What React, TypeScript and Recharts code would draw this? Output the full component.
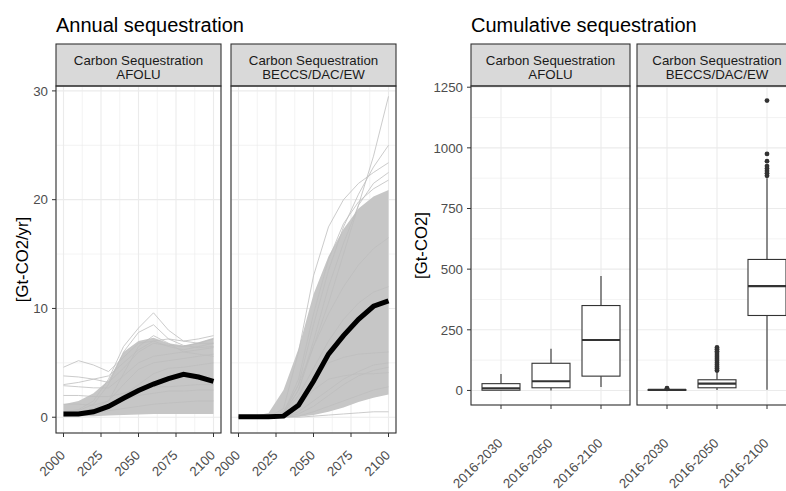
import React from "react";
import { ComposedChart, Line, Area, Bar, XAxis, YAxis, CartesianGrid } from "recharts";

const FONT = '"Liberation Sans", Arial, Helvetica, sans-serif';

// ---- Annual sequestration (Gt-CO2/yr) ----
const YEARS = [2000, 2010, 2020, 2030, 2040, 2050, 2060, 2070, 2080, 2090, 2100];
const YEAR_TICKS = [2000, 2025, 2050, 2075, 2100];
const YEAR_MINOR = [2012.5, 2037.5, 2062.5, 2087.5];
const ANNUAL_TICKS = [0, 10, 20, 30];
const ANNUAL_MINOR = [5, 15, 25];

// AFOLU: median pathway, bulk envelope of scenarios, individual scenarios
const afoluMedian = [0.3, 0.3, 0.5, 1.0, 1.75, 2.45, 3.05, 3.55, 3.95, 3.7, 3.3];
const afoluLow = [0.1, 0.1, 0.1, 0.15, 0.2, 0.25, 0.3, 0.3, 0.3, 0.3, 0.3];
const afoluHigh = [1.2, 1.5, 2.2, 3.4, 6.0, 7.0, 7.3, 6.8, 6.6, 6.9, 7.3];
const afoluRuns = [
  [4.6, 5.2, 4.8, 4.2, 5.5, 6.8, 7.0, 6.5, 6.2, 6.5, 6.8],
  [3.8, 3.7, 3.5, 3.2, 4.5, 6.0, 6.8, 6.6, 6.5, 6.8, 7.2],
  [2.9, 2.8, 2.7, 2.7, 3.8, 5.0, 5.6, 5.8, 6.0, 6.2, 6.4],
  [2.0, 2.0, 1.9, 1.9, 2.2, 2.6, 2.8, 2.8, 2.9, 3.0, 3.0],
  [0.5, 0.7, 1.5, 3.5, 6.5, 8.2, 9.6, 8.0, 7.0, 6.8, 6.8],
  [0.3, 0.6, 1.2, 3.0, 6.0, 7.8, 8.5, 7.2, 6.6, 6.4, 6.5],
  [1.2, 1.2, 1.1, 1.5, 4.0, 6.5, 7.5, 6.8, 6.0, 5.8, 5.6],
  [0.2, 0.2, 0.4, 1.0, 2.0, 3.0, 4.0, 4.5, 4.6, 4.8, 5.0],
  [0.2, 0.3, 0.6, 1.2, 1.6, 2.0, 2.2, 2.4, 2.4, 2.5, 2.5],
  [0.4, 0.5, 0.8, 1.5, 3.0, 4.4, 5.0, 5.2, 5.4, 5.6, 5.8],
  [0.1, 0.2, 0.4, 0.6, 0.8, 1.0, 1.2, 1.3, 1.4, 1.5, 1.5],
  [3.0, 3.2, 3.5, 3.8, 5.0, 6.2, 7.0, 7.2, 7.0, 7.2, 7.5],
];

// BECCS/DAC/EW
const beccsMedian = [0.05, 0.05, 0.05, 0.1, 1.1, 3.3, 5.8, 7.5, 9.0, 10.2, 10.7];
const beccsLow = [0, 0, 0, 0, 0.05, 0.2, 0.5, 0.9, 1.4, 1.8, 2.1];
const beccsHigh = [0.05, 0.1, 0.4, 2.5, 6.3, 11.3, 14.8, 17.3, 19.2, 20.3, 20.9];
const beccsRuns = [
  [0, 0, 0, 0.3, 2.5, 6.5, 10.5, 15.0, 19.5, 24.0, 29.5],
  [0, 0, 0, 0.8, 6.0, 13.0, 17.5, 20.0, 21.5, 22.5, 23.4],
  [0, 0, 0, 0.3, 3.0, 8.5, 13.5, 17.5, 20.5, 23.0, 25.0],
  [0, 0, 0, 0.3, 2.5, 7.0, 12.0, 16.0, 19.5, 21.5, 22.5],
  [0, 0, 0, 0.4, 3.5, 9.5, 14.5, 17.8, 19.8, 21.0, 21.8],
  [0, 0, 0, 0.5, 3.0, 6.5, 9.5, 12.0, 14.0, 15.5, 16.5],
  [0, 0, 0, 0.3, 2.0, 4.5, 7.0, 9.0, 10.5, 11.5, 12.0],
  [0, 0, 0, 0, 0.3, 1.0, 2.0, 3.0, 3.8, 4.3, 4.6],
  [0, 0, 0, 0, 0.5, 1.5, 2.5, 3.5, 4.2, 4.8, 5.0],
  [0, 0, 0, 0, 0.1, 0.5, 1.0, 1.5, 2.0, 2.5, 2.8],
  [0, 0, 0, 0.2, 1.5, 3.5, 5.0, 5.5, 5.8, 5.9, 6.0],
  [0, 0, 0, 0.1, 1.0, 2.5, 3.5, 3.8, 4.0, 4.0, 4.1],
  [0, 0, 0, 0, 0, 0.1, 0.2, 0.3, 0.4, 0.5, 0.5],
];

// ---- Cumulative sequestration (Gt-CO2) ----
const PERIODS = ["2016-2030", "2016-2050", "2016-2100"];
const CUM_TICKS = [0, 250, 500, 750, 1000, 1250];
const CUM_MINOR = [125, 375, 625, 875, 1125];

const afoluBoxMin = [0, 0, 14];
const afoluBoxQ1 = [1, 11, 59];
const afoluBoxMedian = [9, 38, 208];
const afoluBoxQ3 = [28, 112, 350];
const afoluBoxMax = [68, 172, 472];
const afoluOutliers: number[][] = [[], [], []];

const beccsBoxMin = [0, 2, 3];
const beccsBoxQ1 = [1, 11, 309];
const beccsBoxMedian = [2, 28, 430];
const beccsBoxQ3 = [3, 44, 540];
const beccsBoxMax = [5, 75, 875];
const beccsOutliers = [
  [7, 9],
  [82, 90, 98, 106, 114, 122, 130, 138, 146, 154, 162, 170, 177],
  [885, 895, 905, 915, 925, 945, 975, 1195],
];

function buildAnnualRows(median: number[], low: number[], high: number[], runs: number[][]) {
  return YEARS.map((year, i) => {
    const row: Record<string, unknown> = { year, band: [low[i], high[i]], median: median[i] };
    runs.forEach((run, k) => {
      row[`run${k}`] = run[i];
    });
    return row;
  });
}

function buildBoxRows(mins: number[], q1: number[], med: number[], q3: number[], maxs: number[], outs: number[][]) {
  return PERIODS.map((period, i) => ({
    period,
    range: [mins[i], maxs[i]],
    lo: mins[i],
    q1: q1[i],
    med: med[i],
    q3: q3[i],
    hi: maxs[i],
    outliers: outs[i],
  }));
}

const afoluAnnual = buildAnnualRows(afoluMedian, afoluLow, afoluHigh, afoluRuns);
const beccsAnnual = buildAnnualRows(beccsMedian, beccsLow, beccsHigh, beccsRuns);
const afoluBoxes = buildBoxRows(afoluBoxMin, afoluBoxQ1, afoluBoxMedian, afoluBoxQ3, afoluBoxMax, afoluOutliers);
const beccsBoxes = buildBoxRows(beccsBoxMin, beccsBoxQ1, beccsBoxMedian, beccsBoxQ3, beccsBoxMax, beccsOutliers);

const TICK_TEXT = { fill: "#4D4D4D", fontSize: 13.3, fontFamily: FONT };

function makeRotatedTick(offset: number) {
  return function RotatedTick(props: any) {
    const { x, y, payload } = props;
    const px = x + 2.5;
    const py = y + offset;
    return (
      <text
        x={px}
        y={py}
        transform={`rotate(-45 ${px} ${py})`}
        textAnchor="end"
        fontSize={13.3}
        fill="#4D4D4D"
        fontFamily={FONT}
      >
        {payload.value}
      </text>
    );
  };
}

const yearTick = makeRotatedTick(17);
const periodTick = makeRotatedTick(33);

// Box-and-whisker glyph: the bar spans the whisker range, inner parts are
// placed along the same linear mapping the bar was drawn with.
function BoxShape(props: any) {
  const { x, y, width, height, payload } = props;
  if (!payload || height == null) return null;
  const top = Math.min(y, y + height);
  const h = Math.abs(height);
  const span = payload.hi - payload.lo;
  const k = span > 0 ? h / span : 0;
  const py = (v: number) => top + (payload.hi - v) * k;
  const cx = x + width / 2;
  const stroke = "#333333";
  return (
    <g>
      <line x1={cx} x2={cx} y1={py(payload.hi)} y2={py(payload.q3)} stroke={stroke} strokeWidth={1.1} />
      <line x1={cx} x2={cx} y1={py(payload.q1)} y2={py(payload.lo)} stroke={stroke} strokeWidth={1.1} />
      <rect
        x={x}
        y={py(payload.q3)}
        width={width}
        height={Math.max(py(payload.q1) - py(payload.q3), 0.5)}
        fill="#FFFFFF"
        stroke={stroke}
        strokeWidth={1.1}
      />
      <line x1={x} x2={x + width} y1={py(payload.med)} y2={py(payload.med)} stroke={stroke} strokeWidth={2.2} />
      {payload.outliers.map((v: number, i: number) => (
        <circle key={i} cx={cx} cy={py(v)} r={2.4} fill={stroke} />
      ))}
    </g>
  );
}

// Room kept left of a panel without its own y axis, so its rotated
// tick labels are not clipped by the chart's svg.
const GUTTER = 50;

function AnnualPanel({ rows, runs, showY }: { rows: any[]; runs: number[][]; showY: boolean }) {
  const yAxisWidth = showY ? 56 : 0;
  const leftMargin = showY ? 0 : GUTTER;
  return (
    <ComposedChart
      width={leftMargin + yAxisWidth + 170}
      height={491}
      data={rows}
      margin={{ top: 86, right: 5, bottom: 0, left: leftMargin }}
    >
      <CartesianGrid
        stroke="#EBEBEB"
        strokeWidth={0.6}
        horizontalValues={ANNUAL_MINOR}
        verticalValues={YEAR_MINOR}
      />
      <CartesianGrid stroke="#EBEBEB" strokeWidth={1.1} />
      <XAxis
        dataKey="year"
        type="number"
        domain={[1995, 2105]}
        allowDataOverflow
        ticks={YEAR_TICKS}
        interval={0}
        height={58}
        tickSize={4}
        axisLine={false}
        tickLine={{ stroke: "#333333" }}
        tick={yearTick}
      />
      <YAxis
        hide={!showY}
        width={yAxisWidth}
        domain={[-1.45, 30.45]}
        allowDataOverflow
        ticks={ANNUAL_TICKS}
        interval={0}
        tickSize={4}
        tickMargin={4}
        axisLine={false}
        tickLine={{ stroke: "#333333" }}
        tick={TICK_TEXT}
      />
      <Area
        dataKey="band"
        type="linear"
        stroke="none"
        fill="#C6C6C6"
        fillOpacity={1}
        isAnimationActive={false}
        activeDot={false}
      />
      {runs.map((_, k) => (
        <Line
          key={k}
          dataKey={`run${k}`}
          type="linear"
          stroke="#BEBEBE"
          strokeWidth={0.8}
          dot={false}
          activeDot={false}
          isAnimationActive={false}
        />
      ))}
      <Line
        dataKey="median"
        type="linear"
        stroke="#000000"
        strokeWidth={5}
        dot={false}
        activeDot={false}
        isAnimationActive={false}
      />
    </ComposedChart>
  );
}

function BoxPanel({ rows, showY }: { rows: any[]; showY: boolean }) {
  const yAxisWidth = showY ? 71 : 0;
  const leftMargin = showY ? 0 : GUTTER;
  return (
    <ComposedChart
      width={leftMargin + yAxisWidth + 160}
      height={491}
      data={rows}
      margin={{ top: 86, right: 0, bottom: 0, left: leftMargin }}
    >
      <CartesianGrid stroke="#EBEBEB" strokeWidth={0.6} vertical={false} horizontalValues={CUM_MINOR} />
      <CartesianGrid stroke="#EBEBEB" strokeWidth={1.1} />
      <XAxis
        dataKey="period"
        type="category"
        padding={{ left: 5, right: 5 }}
        interval={0}
        height={86}
        tickSize={4}
        axisLine={false}
        tickLine={{ stroke: "#333333" }}
        tick={periodTick}
      />
      <YAxis
        hide={!showY}
        width={yAxisWidth}
        domain={[-60, 1255]}
        allowDataOverflow
        ticks={CUM_TICKS}
        interval={0}
        tickSize={4}
        tickMargin={4}
        axisLine={false}
        tickLine={{ stroke: "#333333" }}
        tick={TICK_TEXT}
      />
      <Bar dataKey="range" barSize={38} shape={(p: any) => <BoxShape {...p} />} isAnimationActive={false} />
    </ComposedChart>
  );
}

function Strip({ x, width, lines }: { x: number; width: number; lines: string[] }) {
  return (
    <g>
      <rect x={x} y={44} width={width} height={42} fill="#D9D9D9" stroke="#333333" strokeWidth={1.1} />
      {lines.map((t, i) => (
        <text
          key={i}
          x={x + width / 2}
          y={64.5 + i * 14}
          textAnchor="middle"
          fontSize={13.3}
          fill="#1A1A1A"
          fontFamily={FONT}
        >
          {t}
        </text>
      ))}
    </g>
  );
}

export default function App() {
  return (
    <div
      style={{
        position: "absolute",
        left: 0,
        top: 0,
        width: 786,
        height: 491,
        overflow: "hidden",
        background: "#FFFFFF",
        fontFamily: FONT,
      }}
    >
      <div style={{ position: "absolute", left: 0, top: 0 }}>
        <AnnualPanel rows={afoluAnnual} runs={afoluRuns} showY />
      </div>
      <div style={{ position: "absolute", left: 231 - GUTTER, top: 0 }}>
        <AnnualPanel rows={beccsAnnual} runs={beccsRuns} showY={false} />
      </div>
      <div style={{ position: "absolute", left: 400, top: 0 }}>
        <BoxPanel rows={afoluBoxes} showY />
      </div>
      <div style={{ position: "absolute", left: 637 - GUTTER, top: 0 }}>
        <BoxPanel rows={beccsBoxes} showY={false} />
      </div>

      <svg
        width={786}
        height={491}
        style={{ position: "absolute", left: 0, top: 0, pointerEvents: "none" }}
      >
        <text x={56} y={32} fontSize={20} fill="#000000" fontFamily={FONT}>
          Annual sequestration
        </text>
        <text x={471} y={32} fontSize={20} fill="#000000" fontFamily={FONT}>
          Cumulative sequestration
        </text>

        <Strip x={56} width={165} lines={["Carbon Sequestration", "AFOLU"]} />
        <Strip x={231} width={165} lines={["Carbon Sequestration", "BECCS/DAC/EW"]} />
        <Strip x={471} width={159} lines={["Carbon Sequestration", "AFOLU"]} />
        <Strip x={637} width={160} lines={["Carbon Sequestration", "BECCS/DAC/EW"]} />

        <rect x={56} y={86} width={165} height={347} fill="none" stroke="#333333" strokeWidth={1.1} />
        <rect x={231} y={86} width={165} height={347} fill="none" stroke="#333333" strokeWidth={1.1} />
        <rect x={471} y={86} width={159} height={319} fill="none" stroke="#333333" strokeWidth={1.1} />
        <rect x={637} y={86} width={160} height={319} fill="none" stroke="#333333" strokeWidth={1.1} />

        <text
          x={28}
          y={259.5}
          transform="rotate(-90 28 259.5)"
          textAnchor="middle"
          fontSize={16.7}
          fill="#000000"
          fontFamily={FONT}
        >
          [Gt-CO2/yr]
        </text>
        <text
          x={427}
          y={245.5}
          transform="rotate(-90 427 245.5)"
          textAnchor="middle"
          fontSize={16.7}
          fill="#000000"
          fontFamily={FONT}
        >
          [Gt-CO2]
        </text>
      </svg>
    </div>
  );
}
